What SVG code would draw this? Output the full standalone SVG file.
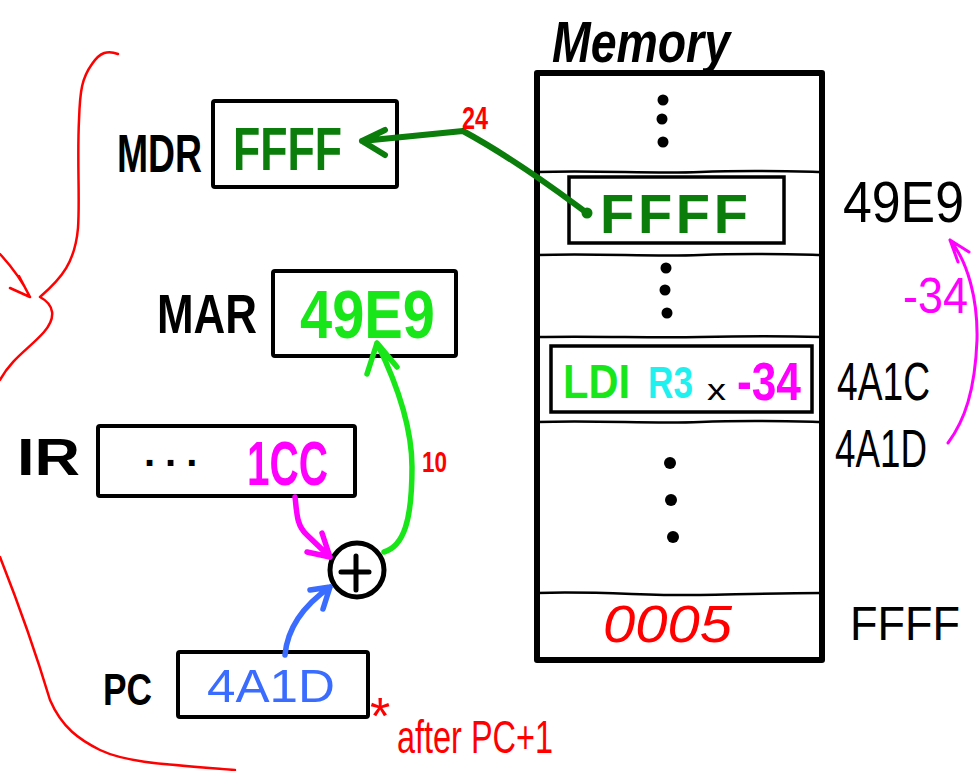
<svg xmlns="http://www.w3.org/2000/svg" width="979" height="771" viewBox="0 0 979 771">
<style>
.lbl{font-family:"Liberation Sans",Arial,sans-serif;font-weight:bold;fill:#000}
.hand{font-family:"Liberation Sans",Arial,sans-serif;fill:#000}
.box{fill:#fff;stroke:#000;stroke-width:4}
.row{fill:none;stroke:#000;stroke-width:2.5}
.ibox{fill:none;stroke:#000;stroke-width:3.5}
.dot{fill:#000}
.c{fill:none;stroke-linecap:round;stroke-linejoin:round}
</style>
<rect width="979" height="771" fill="#fff"/>

<g id="memory">
  <text class="lbl" x="552" y="62" font-size="58" font-style="italic" textLength="178" lengthAdjust="spacingAndGlyphs">Memory</text>
  <rect x="537" y="73" width="285" height="587" fill="none" stroke="#000" stroke-width="6" stroke-linejoin="round"/>
  <path class="row" d="M537,172 C600,170 650,174 700,172 S780,171 822,172"/>
  <path class="row" d="M537,255 C600,253 650,257 700,255 S780,254 822,255"/>
  <path class="row" d="M537,337 C600,336 650,338 700,337 S780,336 822,337"/>
  <path class="row" d="M537,422 C600,420 650,424 700,422 S780,421 822,422"/>
  <path class="row" d="M537,593 C600,591 650,596 700,595 S780,593 822,593"/>
  <circle class="dot" cx="663" cy="100" r="5.5"/>
  <circle class="dot" cx="662" cy="119" r="5.5"/>
  <circle class="dot" cx="663" cy="142" r="5.5"/>
  <circle class="dot" cx="666" cy="268" r="5.5"/>
  <circle class="dot" cx="665" cy="290" r="5.5"/>
  <circle class="dot" cx="667" cy="313" r="5.5"/>
  <circle class="dot" cx="670" cy="463" r="6"/>
  <circle class="dot" cx="671" cy="500" r="6"/>
  <circle class="dot" cx="673" cy="537" r="6"/>
</g>

<g id="mem-ffff">
  <rect class="ibox" x="569" y="177" width="215" height="66"/>
  <text class="lbl" x="600" y="233" font-size="56" style="fill:#0b7d0b" textLength="148" lengthAdjust="spacing">FFFF</text>
</g>

<g id="mem-ldi">
  <rect class="ibox" x="551" y="346" width="261" height="66"/>
  <text class="lbl" x="563" y="398" font-size="49" style="fill:#19e619" textLength="67" lengthAdjust="spacingAndGlyphs">LDI</text>
  <text class="lbl" x="648" y="398" font-size="44" style="fill:#1ff0f0" textLength="45" lengthAdjust="spacingAndGlyphs">R3</text>
  <text class="hand" x="707" y="400" font-size="30" textLength="19" lengthAdjust="spacingAndGlyphs">x</text>
  <text class="lbl" x="737" y="400" font-size="53" style="fill:#ff00ff" textLength="64" lengthAdjust="spacingAndGlyphs">-34</text>
</g>

<g id="mem-0005">
  <text class="hand" x="603" y="642" font-size="52" font-style="italic" style="fill:#ff0000" textLength="129" lengthAdjust="spacingAndGlyphs">0005</text>
</g>

<g id="addresses">
  <text class="hand" x="843" y="222" font-size="58" textLength="121" lengthAdjust="spacingAndGlyphs">49E9</text>
  <text class="hand" x="837" y="400" font-size="53" textLength="93" lengthAdjust="spacingAndGlyphs">4A1C</text>
  <text class="hand" x="835" y="467" font-size="54" textLength="92" lengthAdjust="spacingAndGlyphs">4A1D</text>
  <text class="hand" x="850" y="640" font-size="49" textLength="110" lengthAdjust="spacingAndGlyphs">FFFF</text>
</g>

<g id="mdr">
  <text class="lbl" x="117" y="172" font-size="54" textLength="85" lengthAdjust="spacingAndGlyphs">MDR</text>
  <rect class="box" x="213" y="101" width="184" height="86" rx="2"/>
  <text class="lbl" x="233" y="170" font-size="62" style="fill:#0b7d0b" textLength="109" lengthAdjust="spacingAndGlyphs">FFFF</text>
</g>

<g id="mar">
  <text class="lbl" x="157" y="333" font-size="56" textLength="100" lengthAdjust="spacingAndGlyphs">MAR</text>
  <rect class="box" x="273" y="271" width="183" height="85" rx="2"/>
  <text class="lbl" x="300" y="338" font-size="68" style="fill:#19e619" textLength="135" lengthAdjust="spacingAndGlyphs">49E9</text>
</g>

<g id="ir">
  <text class="lbl" x="17" y="475" font-size="52" textLength="63" lengthAdjust="spacingAndGlyphs">IR</text>
  <rect class="box" x="98" y="426" width="257" height="70" rx="2"/>
  <text class="lbl" x="144" y="466" font-size="40" letter-spacing="10">...</text>
  <text class="lbl" x="247" y="485" font-size="63" style="fill:#ff00ff" textLength="81" lengthAdjust="spacingAndGlyphs">1CC</text>
</g>

<g id="pc">
  <text class="lbl" x="103" y="705" font-size="45" textLength="49" lengthAdjust="spacingAndGlyphs">PC</text>
  <rect class="box" x="178" y="652" width="190" height="65" rx="2"/>
  <text class="hand" x="207" y="702" font-size="47" style="fill:#3a6cff" textLength="128" lengthAdjust="spacingAndGlyphs">4A1D</text>
  <text class="hand" x="370" y="734" font-size="52" style="fill:#ff0000">*</text>
  <text class="hand" x="397" y="753" font-size="46" style="fill:#ff0000" textLength="156" lengthAdjust="spacingAndGlyphs">after PC+1</text>
</g>

<g id="adder">
  <circle cx="357" cy="570" r="27" fill="#fff" stroke="#000" stroke-width="5"/>
  <path d="M341,572 H369 M356,556 V590" stroke="#000" stroke-width="5" stroke-linecap="round" fill="none"/>
</g>

<g id="connectors">
  <circle cx="587" cy="213" r="5.5" fill="#0b7d0b"/>
  <path class="c" d="M587,213 C565,197 520,162 463,131 L362,141 M385,130 L362,141 L385,155" stroke="#0b7d0b" stroke-width="6"/>
  <text class="lbl" x="462" y="129" font-size="32" style="fill:#ff0000" textLength="26" lengthAdjust="spacingAndGlyphs">24</text>
  <path class="c" d="M384,552 C404,546 412,520 412,467 C412,430 400,390 377,343 M367,374 L377,343 L397,367" stroke="#19e619" stroke-width="5.5"/>
  <text class="lbl" x="422" y="472" font-size="30" style="fill:#ff0000" textLength="25" lengthAdjust="spacingAndGlyphs">10</text>
  <path class="c" d="M295,497 C297,512 296,525 307,535 L330,557 M322,533 L330,557 L307,552" stroke="#ff00ff" stroke-width="5.5"/>
  <path class="c" d="M285,655 C287,632 300,608 330,587 M310,590 L330,587 L323,609" stroke="#3a6cff" stroke-width="5.5"/>
  <path class="c" d="M948,443 C965,420 975,390 977,340 C978,300 968,262 950,240 M958,262 L950,240 L969,252" stroke="#ff00ff" stroke-width="3"/>
  <text class="hand" x="903" y="313" font-size="50" style="fill:#ff00ff" textLength="65" lengthAdjust="spacingAndGlyphs">-34</text>
  <path class="c" d="M118,54 C108,50 100,52 92,64 C82,78 80,90 79,120 C77,160 80,200 78,228 C75,262 62,278 40,297 C55,305 56,318 44,332 C30,348 12,358 0,380" stroke="#ff0000" stroke-width="2.5"/>
  <path class="c" d="M0,254 C10,265 22,280 30,297 M19,276 L30,297 L10,288" stroke="#ff0000" stroke-width="2.5"/>
  <path class="c" d="M0,557 C15,595 35,650 50,700 C62,728 80,740 100,750 C125,762 160,764 235,770" stroke="#ff0000" stroke-width="2.5"/>
</g>
</svg>
